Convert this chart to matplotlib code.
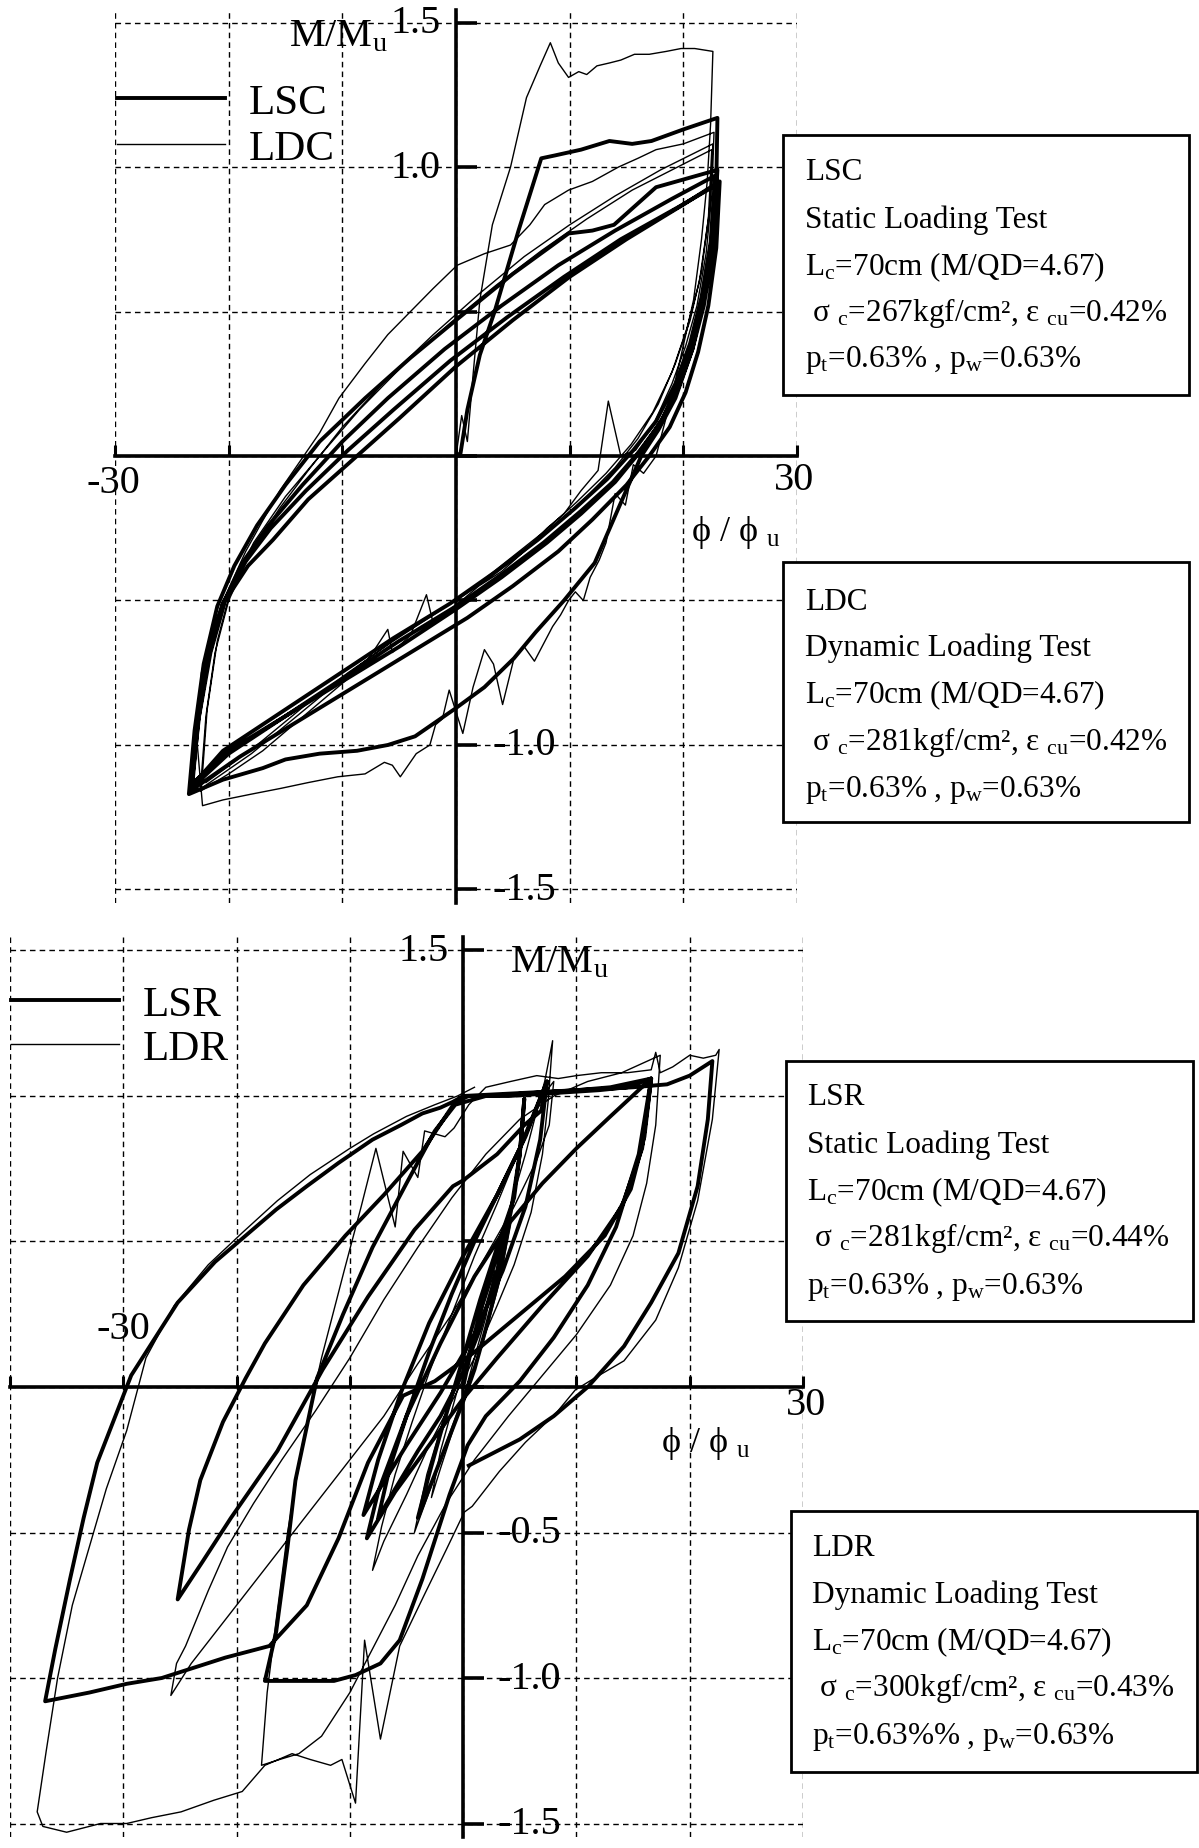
import numpy as np
import matplotlib
matplotlib.use('Agg')
import matplotlib.pyplot as plt
from matplotlib.patches import Rectangle

plt.rcParams['font.family'] = ['Liberation Serif', 'DejaVu Serif']
plt.rcParams['mathtext.fontset'] = 'custom'
plt.rcParams['mathtext.rm'] = 'Liberation Serif'
plt.rcParams['mathtext.it'] = 'Liberation Serif:italic'
plt.rcParams['mathtext.bf'] = 'Liberation Serif:bold'

W, H = 1199, 1849

# ---------------- axis ticks ----------------
y_ticks = [-1.5, -1.0, -0.5, 0.0, 0.5, 1.0, 1.5]
x_ticks_top = [-30, -20, -10, 0, 10, 20, 30]
x_ticks_bot = [-40, -30, -20, -10, 0, 10, 20, 30]

# ---------------- TOP PANEL: LSC (static, thick) ----------------
lsc_load0_x = [0, 0.4, 1.0, 2.1, 3.4, 5.5, 7.5, 8.7, 11.0, 13.5, 15.5, 17.2, 20.0, 23.0]
lsc_load0_y = [0, 0.01, 0.16, 0.35, 0.50, 0.78, 1.03, 1.04, 1.06, 1.09, 1.08, 1.09, 1.13, 1.17]
lsc_unl1_x = [23.0, 22.9, 22.5, 21.8, 20.8, 19.3, 17.8, 16.3, 14.3, 12.2, 9.5, 7.0, 5.1, 2.5, -0.1, -3.6, -6.0, -8.7, -12.0, -15.0, -17.0, -20.5, -23.5]
lsc_unl1_y = [1.17, 0.95, 0.75, 0.55, 0.37, 0.20, 0.09, 0.0, -0.18, -0.37, -0.50, -0.61, -0.70, -0.80, -0.875, -0.97, -1.0, -1.02, -1.03, -1.05, -1.08, -1.12, -1.17]
lsc_rel1_x = [-23.5, -23.0, -22.2, -21.0, -19.5, -17.5, -15.0, -12.0, -8.0, -4.0, 0.0, 5.0, 9.9, 12.0, 13.9, 17.6, 23.0]
lsc_rel1_y = [-1.17, -0.95, -0.72, -0.52, -0.38, -0.24, -0.10, 0.05, 0.20, 0.34, 0.47, 0.63, 0.77, 0.78, 0.80, 0.93, 0.99]
lsc_unl2_x = [23.0, 22.7, 22.0, 21.0, 19.8, 18.2, 16.3, 14.0, 11.0, 8.0, 4.0, 0.0, -5.0, -10.0, -15.0, -20.0, -23.3]
lsc_unl2_y = [0.99, 0.78, 0.58, 0.42, 0.27, 0.13, 0.02, -0.09, -0.20, -0.30, -0.42, -0.53, -0.66, -0.78, -0.90, -1.03, -1.15]
lsc_rel2_x = [-23.3, -22.6, -21.6, -20.3, -18.3, -16.1, -13.0, -9.0, -5.0, 0.0, 5.0, 10.0, 15.0, 20.0, 23.2]
lsc_rel2_y = [-1.15, -0.90, -0.68, -0.50, -0.38, -0.29, -0.15, -0.01, 0.13, 0.31, 0.47, 0.62, 0.75, 0.87, 0.95]
lsc_unl3_x = [23.2, 22.9, 22.2, 21.3, 20.2, 18.8, 17.0, 15.0, 12.0, 9.0, 5.0, 1.0, -4.0, -9.0, -14.0, -19.0, -23.4]
lsc_unl3_y = [0.95, 0.72, 0.52, 0.36, 0.22, 0.10, 0.0, -0.10, -0.22, -0.33, -0.45, -0.56, -0.68, -0.80, -0.92, -1.04, -1.16]
lsc_rel3_x = [-23.4, -22.8, -21.9, -20.6, -18.8, -16.5, -13.5, -10.0, -6.0, -1.0, 4.0, 9.0, 14.0, 19.0, 22.8]
lsc_rel3_y = [-1.16, -0.93, -0.71, -0.52, -0.37, -0.24, -0.10, 0.05, 0.20, 0.37, 0.52, 0.66, 0.78, 0.89, 0.97]
lsc_unl4_x = [22.8, 22.4, 21.6, 20.6, 19.3, 17.6, 15.6, 13.3, 10.5, 7.2, 3.5, -0.5, -5.5, -10.5, -15.5, -20.5, -23.2]
lsc_unl4_y = [0.97, 0.74, 0.55, 0.39, 0.25, 0.12, 0.02, -0.08, -0.18, -0.29, -0.40, -0.51, -0.63, -0.76, -0.89, -1.02, -1.14]
lsc_rel4_x = [-23.2, -22.7, -21.8, -20.5, -18.6, -16.3, -13.2, -9.5, -5.5, -0.5, 4.5, 9.5, 14.5, 19.5, 23.0]
lsc_rel4_y = [-1.14, -0.92, -0.70, -0.51, -0.37, -0.25, -0.12, 0.02, 0.16, 0.33, 0.48, 0.62, 0.75, 0.86, 0.94]
lsc_unl5_x = [23.0, 22.6, 21.8, 20.8, 19.5, 17.9, 16.0, 13.8, 11.0, 7.7, 4.0, 0.0, -5.0, -10.0, -15.0, -20.0, -23.1]
lsc_unl5_y = [0.94, 0.71, 0.52, 0.37, 0.23, 0.11, 0.01, -0.09, -0.19, -0.30, -0.41, -0.52, -0.64, -0.77, -0.90, -1.02, -1.13]

# ---------------- TOP PANEL: LDC (dynamic, thin) ----------------
ldc_load0_x = [0, 0.5, 1.0, 1.5, 2.1, 3.2, 4.8, 6.2, 7.4, 8.3, 9.0, 9.9, 10.8, 11.5, 12.4, 13.5, 14.5, 15.7, 17.0, 18.5, 19.8, 21.0, 22.6]
ldc_load0_y = [0, 0.14, 0.05, 0.28, 0.54, 0.80, 1.00, 1.24, 1.35, 1.43, 1.36, 1.31, 1.33, 1.32, 1.35, 1.36, 1.37, 1.39, 1.39, 1.40, 1.41, 1.41, 1.40]
ldc_unl1_x = [22.6, 22.4, 22.1, 21.6, 20.9, 20.1, 19.3, 18.4, 17.6, 16.5, 15.6, 14.9, 14.0, 13.2, 12.6, 11.8, 11.2, 10.5, 9.9, 9.2,
              8.5, 7.7, 6.9, 6.0, 5.1, 4.1, 3.3, 2.5, 1.5, 0.6, -0.6, -1.2, -1.8, -2.3, -3.5, -4.9, -5.6, -6.3, -8.0, -10.4,
              -13.0, -15.4, -18.0, -20.5, -22.3]
ldc_unl1_y = [1.40, 1.15, 0.95, 0.75, 0.54, 0.40, 0.26, 0.12, 0.0, -0.06, -0.03, -0.17, -0.13, -0.30, -0.36, -0.42, -0.50, -0.47, -0.50, -0.55,
              -0.59, -0.65, -0.71, -0.66, -0.70, -0.86, -0.72, -0.67, -0.80, -0.96, -0.81, -0.91, -0.93, -1.00, -1.03, -1.11, -1.07, -1.06, -1.10, -1.11,
              -1.13, -1.15, -1.17, -1.19, -1.21]
ldc_rel1_x = [-22.3, -22.8, -22.4, -21.5, -20.0, -18.5, -17.1, -15.5, -14.1, -12.0, -10.3, -8.0, -6.0, -4.0, -2.0, 0.1, 2.5, 4.8, 6.5, 7.8, 9.9, 12.0, 14.3, 16.0, 17.6, 20.0, 22.7]
ldc_rel1_y = [-1.21, -0.98, -0.75, -0.60, -0.46, -0.33, -0.23, -0.12, -0.04, 0.08, 0.20, 0.32, 0.42, 0.50, 0.58, 0.66, 0.70, 0.73, 0.80, 0.87, 0.92, 0.95, 1.00, 1.03, 1.06, 1.08, 1.12]
ldc_unl2_x = [22.7, 22.5, 22.0, 21.2, 20.2, 19.0, 17.5, 15.8, 14.5, 13.4, 12.5, 11.0, 9.5, 8.0, 6.0, 4.0, 2.0, 0.5, -0.5, -2.0, -2.6, -4.0, -5.6, -6.0, -8.0, -11.0, -14.0, -17.0, -20.0, -22.5]
ldc_unl2_y = [1.12, 0.90, 0.70, 0.52, 0.38, 0.25, 0.12, 0.02, 0.00, 0.19, -0.05, -0.12, -0.20, -0.25, -0.33, -0.40, -0.45, -0.50, -0.53, -0.58, -0.48, -0.62, -0.68, -0.60, -0.72, -0.82, -0.92, -1.02, -1.10, -1.16]
ldc_rel2_x = [-22.5, -22.0, -21.2, -20.0, -18.0, -15.5, -13.0, -10.0, -6.0, -2.0, 2.0, 6.0, 10.0, 14.0, 18.0, 22.6]
ldc_rel2_y = [-1.16, -0.90, -0.68, -0.50, -0.33, -0.18, -0.05, 0.10, 0.27, 0.42, 0.56, 0.69, 0.80, 0.90, 0.99, 1.08]
ldc_unl3_x = [22.6, 22.3, 21.6, 20.6, 19.3, 17.8, 16.0, 14.0, 11.5, 9.0, 6.0, 3.0, 0.0, -3.0, -6.0, -10.0, -14.0, -18.0, -22.4]
ldc_unl3_y = [1.08, 0.85, 0.64, 0.47, 0.32, 0.18, 0.06, -0.04, -0.14, -0.23, -0.33, -0.42, -0.50, -0.57, -0.65, -0.77, -0.90, -1.03, -1.15]
ldc_rel3_x = [-22.4, -21.9, -21.0, -19.8, -17.8, -15.0, -12.0, -8.5, -4.5, -0.5, 3.5, 7.5, 11.5, 15.5, 19.5, 22.5]
ldc_rel3_y = [-1.15, -0.88, -0.64, -0.46, -0.30, -0.14, 0.00, 0.16, 0.32, 0.46, 0.59, 0.71, 0.82, 0.92, 1.00, 1.06]
ldc_unl4_x = [22.5, 22.2, 21.4, 20.3, 19.0, 17.3, 15.4, 13.2, 10.6, 7.8, 4.6, 1.4, -2.0, -5.5, -9.5, -13.5, -17.5, -22.0]
ldc_unl4_y = [1.06, 0.82, 0.60, 0.44, 0.29, 0.15, 0.04, -0.06, -0.16, -0.26, -0.36, -0.46, -0.55, -0.64, -0.75, -0.87, -1.00, -1.13]

# ---------------- BOTTOM PANEL: LSR (static, thick) ----------------
lsr_s0_x = [0, 1.0, 2.0, 3.0, 4.0, 3.2, 2.0, 1.0, 0.0, -1.0, -2.0, -3.0, -4.0, -3.0, -2.0, -1.0, 0.0, 1.5, 3.0, 4.5, 5.0, 5.4]
lsr_s0_y = [0, 0.18, 0.33, 0.45, 0.55, 0.38, 0.20, 0.06, -0.05, -0.15, -0.25, -0.35, -0.45, -0.30, -0.16, -0.03, 0.10, 0.30, 0.48, 0.65, 0.80, 0.99]
lsr_u1_x = [5.4, 5.0, 4.2, 3.0, 1.5, 0.0, -2.0, -4.0, -6.0, -7.5]
lsr_u1_y = [0.99, 0.80, 0.60, 0.40, 0.20, 0.05, -0.10, -0.22, -0.35, -0.45]
lsr_r1_x = [-7.5, -6.5, -5.0, -3.0, -1.0, 1.0, 3.0, 5.0, 7.4]
lsr_r1_y = [-0.45, -0.28, -0.10, 0.12, 0.32, 0.50, 0.66, 0.82, 1.05]
lsr_u2_x = [7.4, 6.8, 5.5, 3.5, 1.0, -2.0, -5.0, -8.8]
lsr_u2_y = [1.05, 0.85, 0.62, 0.40, 0.18, -0.02, -0.20, -0.44]
lsr_r2_x = [-8.8, -7.5, -5.5, -3.0, 0.0, 3.0, 5.5, 7.4]
lsr_r2_y = [-0.44, -0.25, -0.02, 0.22, 0.45, 0.66, 0.86, 1.05]
lsr_u3_x = [7.4, 6.9, 5.4, 3.0, 0.0, -0.9, -4.3, -8.4, -12.4, -16.4, -20.5, -23.0, -25.2]
lsr_u3_y = [1.05, 0.95, 0.90, 0.80, 0.71, 0.69, 0.54, 0.31, 0.06, -0.22, -0.45, -0.60, -0.73]
lsr_r3_x = [-25.2, -24.2, -23.2, -21.2, -19.2, -17.5, -14.1, -10.4, -7.0, -3.6, -0.7, 0.5, 4.0, 8.0, 12.0, 14.5, 16.6]
lsr_r3_y = [-0.73, -0.49, -0.32, -0.12, 0.03, 0.15, 0.35, 0.52, 0.66, 0.81, 0.98, 1.00, 1.00, 1.01, 1.02, 1.03, 1.06]
lsr_u3b_x = [16.6, 15.8, 14.0, 11.0, 7.0, 3.0, 0.0, -3.0, -6.0, -8.5]
lsr_u3b_y = [1.06, 0.82, 0.62, 0.45, 0.28, 0.10, -0.04, -0.20, -0.36, -0.52]
lsr_r3b_x = [-8.5, -7.5, -5.0, -2.0, 1.0, 4.0, 7.0, 10.0, 13.0, 16.6]
lsr_r3b_y = [-0.52, -0.36, -0.10, 0.15, 0.38, 0.56, 0.70, 0.82, 0.93, 1.06]
lsr_u4_x = [16.6, 15.5, 13.5, 11.0, 8.0, 5.0, 2.0, 0.4, -1.2, -3.6, -5.6, -7.3, -9.5, -11.4, -14.5, -17.5]
lsr_u4_y = [1.06, 0.80, 0.55, 0.35, 0.17, 0.02, -0.10, -0.20, -0.37, -0.66, -0.87, -0.95, -0.99, -1.01, -1.01, -1.01]
lsr_r4_x = [-17.5, -16.5, -15.5, -14.8, -12.9, -10.6, -8.0, -5.0, -2.5, -0.7, 2.0, 6.0, 10.0, 13.0, 16.6]
lsr_r4_y = [-1.01, -0.84, -0.55, -0.32, 0.03, 0.25, 0.48, 0.70, 0.88, 0.97, 1.00, 1.01, 1.02, 1.03, 1.06]
lsr_u5_x = [16.6, 16.0, 14.8, 12.5, 9.0, 5.0, 1.0, -2.5, -5.3, -8.4, -11.0, -13.8, -17.1, -21.0, -26.6, -29.7, -33.0, -36.9]
lsr_u5_y = [1.06, 0.86, 0.68, 0.52, 0.38, 0.25, 0.12, 0.02, -0.03, -0.26, -0.52, -0.75, -0.89, -0.93, -1.00, -1.02, -1.05, -1.08]
lsr_r5_x = [-36.9, -36.0, -34.7, -33.5, -32.3, -30.5, -29.3, -27.5, -25.2, -21.9, -19.2, -16.5, -13.8, -11.0, -8.0, -5.5, -3.6, -2.0, -0.9, 0.0, 5.0, 10.0, 15.0, 18.0, 20.0, 22.0]
lsr_r5_y = [-1.08, -0.90, -0.66, -0.45, -0.26, -0.08, 0.04, 0.15, 0.29, 0.43, 0.52, 0.61, 0.69, 0.77, 0.85, 0.90, 0.94, 0.96, 0.98, 1.00, 1.01, 1.02, 1.03, 1.04, 1.07, 1.12]
lsr_u6_x = [22.0, 21.6, 20.7, 19.0, 16.6, 14.2, 11.0, 8.0, 5.0, 2.0, 0.5]
lsr_u6_y = [1.12, 0.92, 0.69, 0.46, 0.29, 0.14, 0.00, -0.10, -0.18, -0.24, -0.27]

# ---------------- BOTTOM PANEL: LDR (dynamic, thin) ----------------
ldr_s0_x = [0, 0.8, 1.8, 2.8, 2.0, 1.0, 0.0, -1.0, -2.0, -2.8, -2.0, -1.0, 0.0, 1.5, 3.0, 4.3, 3.2, 1.8, 0.3, -1.2, -2.8, -4.3, -3.2, -1.8, -0.3, 1.0, 2.5, 4.0]
ldr_s0_y = [0, 0.14, 0.28, 0.40, 0.24, 0.10, -0.04, -0.16, -0.28, -0.38, -0.22, -0.08, 0.06, 0.26, 0.44, 0.58, 0.36, 0.16, 0.0, -0.16, -0.34, -0.50, -0.30, -0.12, 0.06, 0.24, 0.42, 0.60]
ldr_m1_x = [4.0, 5.5, 6.5, 7.2, 7.9, 7.5, 7.0, 6.0, 4.5, 3.0, 1.0, -1.0, -3.0, -5.0, -7.0, -8.0]
ldr_m1_y = [0.60, 0.80, 0.95, 1.05, 1.19, 0.98, 0.80, 0.60, 0.42, 0.28, 0.10, -0.05, -0.20, -0.37, -0.53, -0.63]
ldr_m2_x = [-8.0, -7.2, -6.0, -4.5, -3.0, -1.0, 1.0, 3.0, 5.0, 7.0, 8.0]
ldr_m2_y = [-0.63, -0.48, -0.30, -0.12, 0.05, 0.25, 0.45, 0.63, 0.82, 1.00, 1.05]
ldr_m3_x = [8.0, 7.6, 6.5, 4.5, 2.0, -1.0, -4.0, -7.0, -10.0, -13.0, -16.0, -19.0, -22.0, -24.0, -25.8]
ldr_m3_y = [1.05, 0.90, 0.78, 0.62, 0.45, 0.25, 0.08, -0.10, -0.25, -0.40, -0.55, -0.70, -0.85, -0.95, -1.06]
ldr_m4_x = [-25.8, -25.3, -24.5, -22.5, -20.8, -18.5, -16.0, -13.0, -10.0, -7.0, -4.0, -1.0, 2.0, 5.0, 8.0, 11.0, 14.0, 17.4]
ldr_m4_y = [-1.06, -0.95, -0.89, -0.70, -0.55, -0.40, -0.25, -0.08, 0.10, 0.30, 0.48, 0.65, 0.80, 0.92, 1.00, 1.05, 1.08, 1.14]
ldr_m5_x = [17.4, 17.0, 16.2, 15.0, 13.0, 10.0, 7.0, 4.0, 1.0, -1.5, -4.0, -6.0, -8.0, -10.0, -12.5, -14.5, -16.2, -17.8]
ldr_m5_y = [1.14, 0.90, 0.70, 0.52, 0.35, 0.18, 0.04, -0.10, -0.25, -0.40, -0.58, -0.75, -0.90, -1.05, -1.20, -1.26, -1.28, -1.30]
ldr_m6_x = [-17.8, -17.3, -16.5, -15.5, -14.2, -12.5, -10.5, -9.0, -7.7, -6.0, -5.3, -4.0, -3.4, -1.6, -0.8, 0.5, 2.0, 4.2, 6.5, 8.4, 10.0, 12.2, 14.5, 16.6, 17.0, 17.4, 18.5, 20.0, 21.2, 22.3]
ldr_m6_y = [-1.30, -1.05, -0.80, -0.50, -0.20, 0.10, 0.40, 0.62, 0.82, 0.55, 0.81, 0.72, 0.88, 0.86, 0.89, 0.97, 1.03, 1.05, 1.07, 1.06, 1.07, 1.08, 1.08, 1.09, 1.15, 1.08, 1.10, 1.14, 1.13, 1.14]
ldr_m7_x = [22.3, 22.6, 22.0, 20.7, 19.0, 17.0, 14.2, 12.0, 9.9, 8.2, 5.5, 3.2, 0.8, 0.1, -1.5, -3.5, -5.6, -7.3, -8.7, -9.5, -10.7, -11.7, -13.5, -15.1, -17.5, -19.5, -22.0, -24.9, -27.5, -29.7, -32.0, -35.0, -37.1, -37.6]
ldr_m7_y = [1.14, 1.16, 0.92, 0.64, 0.41, 0.23, 0.09, 0.04, -0.01, -0.09, -0.19, -0.29, -0.41, -0.43, -0.56, -0.72, -0.89, -1.21, -0.87, -1.43, -1.28, -1.30, -1.28, -1.26, -1.30, -1.39, -1.42, -1.46, -1.48, -1.50, -1.50, -1.53, -1.51, -1.46]
ldr_m8_x = [-37.6, -36.8, -35.8, -34.5, -33.0, -31.5, -29.7, -28.0, -25.5, -22.5, -19.5, -16.4, -13.5, -10.0, -7.9, -5.0, -2.5, -0.5, 1.0]
ldr_m8_y = [-1.46, -1.25, -1.00, -0.75, -0.55, -0.35, -0.15, 0.10, 0.28, 0.42, 0.53, 0.64, 0.73, 0.82, 0.87, 0.93, 0.97, 1.00, 1.03]

# ---------------- texts ----------------
box_texts = {
    'LSC': ['LSC', 'Static Loading Test', r'$\mathrm{L}_{\mathrm{c}}$=70cm (M/QD=4.67)',
            r' $\mathrm{σ}\ _{\mathrm{c}}$=267kgf/cm², $\mathrm{ε}\ _{\mathrm{cu}}$=0.42%',
            r'$\mathrm{p}_{\mathrm{t}}$=0.63% , $\mathrm{p}_{\mathrm{w}}$=0.63%'],
    'LDC': ['LDC', 'Dynamic Loading Test', r'$\mathrm{L}_{\mathrm{c}}$=70cm (M/QD=4.67)',
            r' $\mathrm{σ}\ _{\mathrm{c}}$=281kgf/cm², $\mathrm{ε}\ _{\mathrm{cu}}$=0.42%',
            r'$\mathrm{p}_{\mathrm{t}}$=0.63% , $\mathrm{p}_{\mathrm{w}}$=0.63%'],
    'LSR': ['LSR', 'Static Loading Test', r'$\mathrm{L}_{\mathrm{c}}$=70cm (M/QD=4.67)',
            r' $\mathrm{σ}\ _{\mathrm{c}}$=281kgf/cm², $\mathrm{ε}\ _{\mathrm{cu}}$=0.44%',
            r'$\mathrm{p}_{\mathrm{t}}$=0.63% , $\mathrm{p}_{\mathrm{w}}$=0.63%'],
    'LDR': ['LDR', 'Dynamic Loading Test', r'$\mathrm{L}_{\mathrm{c}}$=70cm (M/QD=4.67)',
            r' $\mathrm{σ}\ _{\mathrm{c}}$=300kgf/cm², $\mathrm{ε}\ _{\mathrm{cu}}$=0.43%',
            r'$\mathrm{p}_{\mathrm{t}}$=0.63%% , $\mathrm{p}_{\mathrm{w}}$=0.63%'],
}


def join(*pairs):
    xs = np.concatenate([np.asarray(p[0], float) for p in pairs])
    ys = np.concatenate([np.asarray(p[1], float) for p in pairs])
    return xs, ys


fig = plt.figure(figsize=(W / 100, H / 100), dpi=100)
fig.patch.set_facecolor('white')


def fx(px):
    return px / W


def fy(py):
    return 1 - py / H


def make_axes(x0, x1, y_top, y_bot, xlim, xticks):
    ax = fig.add_axes([fx(x0), fy(y_bot), (x1 - x0) / W, (y_bot - y_top) / H])
    ax.set_xlim(*xlim)
    ax.set_ylim(-1.545, 1.545)
    ax.set_xticks(xticks)
    ax.set_yticks(y_ticks)
    ax.grid(True, color='black', linestyle=(0, (4, 3)), linewidth=1.0)
    ax.set_axisbelow(True)
    for s in ['top', 'right']:
        ax.spines[s].set_visible(False)
    ax.spines['left'].set_position(('data', 0))
    ax.spines['bottom'].set_position(('data', 0))
    ax.spines['left'].set_linewidth(2.6)
    ax.spines['bottom'].set_linewidth(2.6)
    ax.tick_params(axis='x', direction='in', length=8, width=2.2, labelbottom=False)
    ax.tick_params(axis='y', direction='in', length=15, width=2.6, labelleft=False)
    ax.patch.set_alpha(0)
    return ax


TXT = 29
LEG = 31
THICK = 2.8
THIN = 1.0
BOXFS = 22.5

# ---------- top panel ----------
ax1 = make_axes(115, 797, 10.5, 903.5, (-30, 30), x_ticks_top)
ldc_x, ldc_y = join((ldc_load0_x, ldc_load0_y), (ldc_unl1_x, ldc_unl1_y), (ldc_rel1_x, ldc_rel1_y),
                    (ldc_unl2_x, ldc_unl2_y), (ldc_rel2_x, ldc_rel2_y), (ldc_unl3_x, ldc_unl3_y),
                    (ldc_rel3_x, ldc_rel3_y), (ldc_unl4_x, ldc_unl4_y))
lsc_x, lsc_y = join((lsc_load0_x, lsc_load0_y), (lsc_unl1_x, lsc_unl1_y), (lsc_rel1_x, lsc_rel1_y),
                    (lsc_unl2_x, lsc_unl2_y), (lsc_rel2_x, lsc_rel2_y), (lsc_unl3_x, lsc_unl3_y),
                    (lsc_rel3_x, lsc_rel3_y), (lsc_unl4_x, lsc_unl4_y), (lsc_rel4_x, lsc_rel4_y),
                    (lsc_unl5_x, lsc_unl5_y))
l_ldc, = ax1.plot(ldc_x, ldc_y, color='black', lw=THIN, clip_on=False, label='LDC')
l_lsc, = ax1.plot(lsc_x, lsc_y, color='black', lw=THICK, clip_on=False, label='LSC',
                  solid_joinstyle='round')

ax1.text(-1.35, 1.5, '1.5', ha='right', va='center', fontsize=TXT)
ax1.text(-1.35, 1.0, '1.0', ha='right', va='center', fontsize=TXT)
ax1.text(3.25, -1.0, '-1.0', ha='left', va='center', fontsize=TXT)
ax1.text(3.25, -1.5, '-1.5', ha='left', va='center', fontsize=TXT)
ax1.text(-6.0, 1.42, r'M/M$_{\mathrm{u}}$', ha='right', va='baseline', fontsize=TXT)
ax1.text(-30.1, -0.09, '-30', ha='center', va='center', fontsize=TXT)
ax1.text(29.7, -0.08, '30', ha='center', va='center', fontsize=TXT)
ax1.text(20.7, -0.26, r'ϕ / ϕ $_{\mathrm{u}}$', ha='left', va='center', fontsize=26)

leg1 = ax1.legend(handles=[l_lsc, l_ldc], labels=['LSC', 'LDC'], loc='upper left',
                  bbox_to_anchor=(fx(117), fy(84)), bbox_transform=fig.transFigure,
                  frameon=False, fontsize=LEG, handlelength=2.5, handletextpad=0.55,
                  borderpad=0, borderaxespad=0, labelspacing=0.15)

# ---------- bottom panel ----------
ax2 = make_axes(10, 803, 938.4, 1837.6, (-40, 30), x_ticks_bot)
ldr_x, ldr_y = join((ldr_s0_x, ldr_s0_y), (ldr_m1_x, ldr_m1_y), (ldr_m2_x, ldr_m2_y), (ldr_m3_x, ldr_m3_y),
                    (ldr_m4_x, ldr_m4_y), (ldr_m5_x, ldr_m5_y), (ldr_m6_x, ldr_m6_y), (ldr_m7_x, ldr_m7_y),
                    (ldr_m8_x, ldr_m8_y))
lsr_x, lsr_y = join((lsr_s0_x, lsr_s0_y), (lsr_u1_x, lsr_u1_y), (lsr_r1_x, lsr_r1_y), (lsr_u2_x, lsr_u2_y),
                    (lsr_r2_x, lsr_r2_y), (lsr_u3_x, lsr_u3_y), (lsr_r3_x, lsr_r3_y), (lsr_u3b_x, lsr_u3b_y),
                    (lsr_r3b_x, lsr_r3b_y), (lsr_u4_x, lsr_u4_y),
                    (lsr_r4_x, lsr_r4_y), (lsr_u5_x, lsr_u5_y), (lsr_r5_x, lsr_r5_y), (lsr_u6_x, lsr_u6_y))
l_ldr, = ax2.plot(ldr_x, ldr_y, color='black', lw=THIN, clip_on=False, label='LDR')
l_lsr, = ax2.plot(lsr_x, lsr_y, color='black', lw=THICK, clip_on=False, label='LSR',
                  solid_joinstyle='round')

ax2.text(-1.3, 1.5, '1.5', ha='right', va='center', fontsize=TXT)
ax2.text(3.0, -0.5, '-0.5', ha='left', va='center', fontsize=TXT)
ax2.text(3.0, -1.0, '-1.0', ha='left', va='center', fontsize=TXT)
ax2.text(3.0, -1.5, '-1.5', ha='left', va='center', fontsize=TXT)
ax2.text(4.1, 1.43, r'M/M$_{\mathrm{u}}$', ha='left', va='baseline', fontsize=TXT)
ax2.text(-30.0, 0.20, '-30', ha='center', va='center', fontsize=TXT)
ax2.text(30.3, -0.06, '30', ha='center', va='center', fontsize=TXT)
ax2.text(17.5, -0.19, r'ϕ / ϕ $_{\mathrm{u}}$', ha='left', va='center', fontsize=26)

leg2 = ax2.legend(handles=[l_lsr, l_ldr], labels=['LSR', 'LDR'], loc='upper left',
                  bbox_to_anchor=(fx(11), fy(986)), bbox_transform=fig.transFigure,
                  frameon=False, fontsize=LEG, handlelength=2.5, handletextpad=0.55,
                  borderpad=0, borderaxespad=0, labelspacing=0.1)

# ---------- info boxes ----------
boxes = [
    ('LSC', 783, 1189, 136, 396, 805, [173, 220, 267, 313, 360]),
    ('LDC', 783, 1189, 563, 823, 805, [602, 648, 695, 742, 790]),
    ('LSR', 786, 1193, 1062, 1322, 807, [1098, 1145, 1192, 1238, 1287]),
    ('LDR', 791, 1197, 1512, 1773, 812, [1548, 1595, 1642, 1688, 1737]),
]
for key, x0, x1, y0, y1, tx, tys in boxes:
    rect = Rectangle((fx(x0), fy(y1)), (x1 - x0) / W, (y1 - y0) / H, transform=fig.transFigure,
                     facecolor='white', edgecolor='black', linewidth=2.0, zorder=10)
    fig.add_artist(rect)
    for line, ty in zip(box_texts[key], tys):
        fig.text(fx(tx), fy(ty), line, ha='left', va='center', fontsize=BOXFS, zorder=11)

fig.savefig('out.png', dpi=100, facecolor='white')
